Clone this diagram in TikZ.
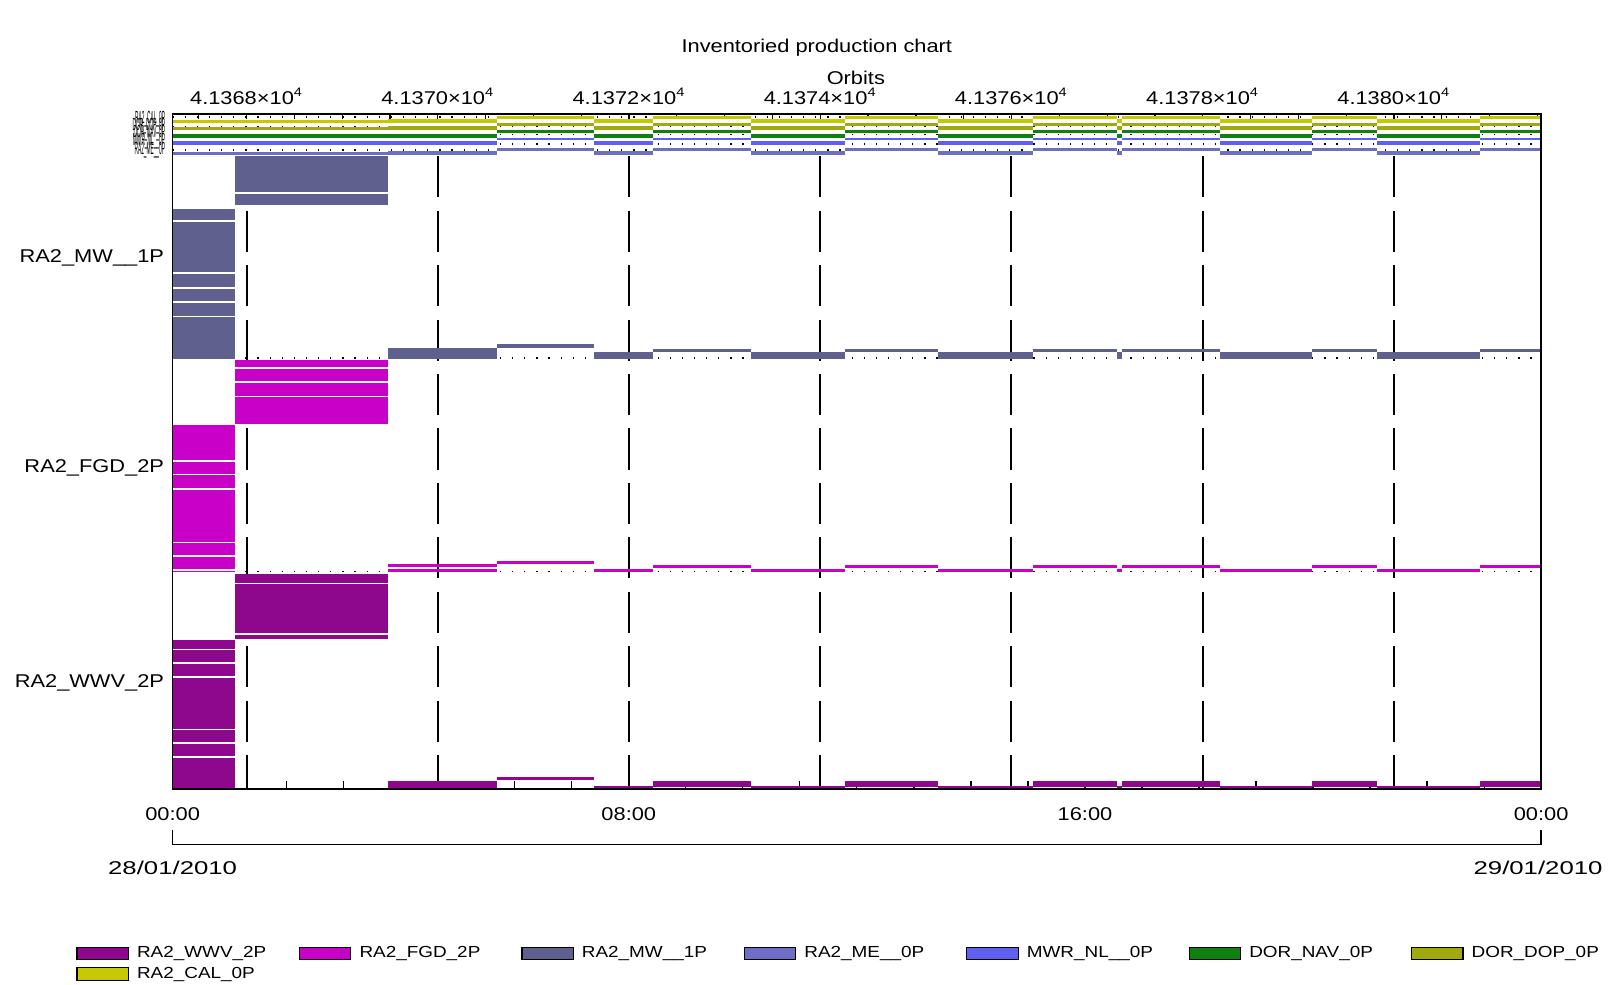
\documentclass[tikz,border=0pt]{standalone}
\usepackage{fontspec}
\setmainfont{Liberation Sans}[FakeStretch=1.18]
\definecolor{cwwv}{RGB}{142,8,142}
\definecolor{cfgd}{RGB}{200,0,200}
\definecolor{cmw}{RGB}{96,96,142}
\definecolor{cme}{RGB}{110,110,200}
\definecolor{cnl}{RGB}{96,96,240}
\definecolor{cnav}{RGB}{16,128,16}
\definecolor{cdop}{RGB}{160,170,16}
\definecolor{ccal}{RGB}{200,200,0}
\newcommand{\squeezed}[1]{\scalebox{0.22}[0.95]{#1}}
\begin{document}
\begin{tikzpicture}[x=0.5pt,y=-0.5pt,
  lbl/.style={font=\fontsize{9}{11}\selectfont, inner sep=0pt},
  thinlbl/.style={font=\fontsize{9}{11}\selectfont, inner sep=0pt, anchor=east},
  leglbl/.style={font=\fontsize{7.8}{9}\selectfont, inner sep=0pt, anchor=west},
  axisline/.style={line width=0.8pt, black},
  tickline/.style={line width=0.6pt, black},
  dashv/.style={line width=0.9pt, black, dash pattern=on 20pt off 6.5pt},
  dotline/.style={line width=0.7pt, black, dash pattern=on 0.6pt off 5.3pt},
  whitesep/.style={white, line width=0.8pt},
  swatch/.style={line width=0.6pt, draw=black}]
\useasboundingbox (0,0) rectangle (1568,958);
\fill[white] (0,0) rectangle (1568,958);

% titles
\node[lbl] (title) at (795,46) {Inventoried production chart};
\node[lbl] (orbits) at (833,76) {Orbits};
\foreach \i/\t in {0/4.1368,1/4.1370,2/4.1372,3/4.1374,4/4.1376,5/4.1378,6/4.1380}
  \node[lbl] (orb\i) at ({240+186.1*\i},94) {\t×10\textsuperscript{4}};

% dashed orbit lines
\foreach \i in {0,...,6}
  \draw[dashv] ({240+186.1*\i},152) -- ({240+186.1*\i},768);

% dotted baselines
\foreach \y in {114,123,131,140,146,348.5,556.5}
  \draw[dotline] (168,\y) -- (1500,\y);

% top axis ticks
\foreach \k in {0,...,28}
  \draw[tickline] ({193.5+46.53*\k},111) -- ({193.5+46.53*\k},116);
% bottom axis ticks
\foreach \k in {1,...,23}
  \draw[tickline] ({168+55.5*\k},768) -- ({168+55.5*\k},760);

% ---------- thin rows (CAL, DOP, NAV, NL, ME) ----------
\foreach \c/\Y in {ccal/120, cdop/127, cnav/134, cnl/141, cme/151}{
  \fill[\c] (168,\Y-3.5) rectangle (378,\Y);
  \foreach \a/\b in {378/484,578/636,731/822,913/1005,1087/1092,1187/1277,1340/1440}
    \fill[\c] (\a,\Y-4) rectangle (\b,\Y);
  \foreach \a/\b in {484/578,636/731,822/913,1005/1087,1092/1187,1277/1340,1440/1500}
    \fill[\c] (\a,\Y-7) rectangle (\b,\Y-4.5);
}

% ---------- RA2_MW__1P ----------
\fill[cmw] (168,203) rectangle (229,349);
\foreach \y in {215,266,280,294,308} \draw[whitesep] (168,\y) -- (229,\y);
\fill[cmw] (229,152) rectangle (378,200);
\draw[whitesep] (229,188) -- (378,188);
\fill[cmw] (378,339) rectangle (484,349);
\fill[cmw] (484,335) rectangle (578,338.5);
\foreach \a/\b in {578/636,731/822,913/1005,1087/1092,1187/1277,1340/1440}
  \fill[cmw] (\a,343) rectangle (\b,349);
\foreach \a/\b in {636/731,822/913,1005/1087,1092/1187,1277/1340,1440/1500}
  \fill[cmw] (\a,339.5) rectangle (\b,343);

% ---------- RA2_FGD_2P ----------
\fill[cfgd] (168,414) rectangle (229,557);
\foreach \y in {449,462,476,528,541,555} \draw[whitesep] (168,\y) -- (229,\y);
\fill[cfgd] (229,350) rectangle (378,413);
\foreach \y in {358,372,386} \draw[whitesep] (229,\y) -- (378,\y);
\fill[cfgd] (378,549) rectangle (484,552);
\fill[cfgd] (378,554) rectangle (484,557);
\fill[cfgd] (484,546) rectangle (578,549);
\foreach \a/\b in {578/636,731/822,913/1005,1087/1092,1187/1277,1340/1440}
  \fill[cfgd] (\a,553.5) rectangle (\b,557);
\foreach \a/\b in {636/731,822/913,1005/1087,1092/1187,1277/1340,1440/1500}
  \fill[cfgd] (\a,550) rectangle (\b,553);

% ---------- RA2_WWV_2P ----------
\fill[cwwv] (168,623) rectangle (229,768);
\foreach \y in {632,645,659,710,723,737} \draw[whitesep] (168,\y) -- (229,\y);
\fill[cwwv] (229,559) rectangle (378,622);
\foreach \y in {568,617} \draw[whitesep] (229,\y) -- (378,\y);
\fill[cwwv] (378,760) rectangle (484,768);
\fill[cwwv] (484,756) rectangle (578,759);
\foreach \a/\b in {578/636,731/822,913/1005,1087/1092,1187/1277,1340/1440}
  \fill[cwwv] (\a,765) rectangle (\b,768);
\foreach \a/\b in {636/731,822/913,1005/1087,1092/1187,1277/1340,1440/1500}
  \fill[cwwv] (\a,760) rectangle (\b,766);

% frame
\draw[axisline] (168,111) rectangle (1500,768);

% row labels
\node[thinlbl] (lcal) at (161,116) {\squeezed{RA2\_CAL\_0P}};
\node[thinlbl] (ldop) at (161,123) {\squeezed{DOR\_DOP\_0P}};
\node[thinlbl] (lnav) at (161,130) {\squeezed{DOR\_NAV\_0P}};
\node[thinlbl] (lnl) at (161,137) {\squeezed{MWR\_NL\_\_0P}};
\node[thinlbl] (lme) at (161,146) {\squeezed{RA2\_ME\_\_0P}};
\node[lbl, anchor=east] (lmw) at (160,251) {RA2\_MW\_\_1P};
\node[lbl, anchor=east] (lfgd) at (160,455) {RA2\_FGD\_2P};
\node[lbl, anchor=east] (lwwv) at (160,665) {RA2\_WWV\_2P};

% time axis labels
\node[lbl] (t0) at (168,792) {00:00};
\node[lbl] (t1) at (612,792) {08:00};
\node[lbl] (t2) at (1056,792) {16:00};
\node[lbl] (t3) at (1500,792) {00:00};
\coordinate (bl) at (168,808);
\coordinate (br) at (1500,808);
\draw[axisline] (bl) -- (168,822) -- (1500,822) -- (br);
\node[lbl] (d0) at (168,845) {\scalebox{1.18}[1]{28/01/2010}};
\node[lbl] (d1) at (1497,845) {\scalebox{1.18}[1]{29/01/2010}};

% legend
\foreach \i/\c/\t in {0/cwwv/RA2\_WWV\_2P,1/cfgd/RA2\_FGD\_2P,2/cmw/RA2\_MW\_\_1P,3/cme/RA2\_ME\_\_0P,4/cnl/MWR\_NL\_\_0P,5/cnav/DOR\_NAV\_0P,6/cdop/DOR\_DOP\_0P}{
  \draw[swatch, fill=\c] ({75+216.5*\i},922) rectangle ++(50,12);
  \node[leglbl] (leg\i) at ({133+216.5*\i},928) {\t};
}
\draw[swatch, fill=ccal] (75,942) rectangle ++(50,12);
\node[leglbl] (leg7) at (133,948) {RA2\_CAL\_0P};
\end{tikzpicture}
\end{document}
